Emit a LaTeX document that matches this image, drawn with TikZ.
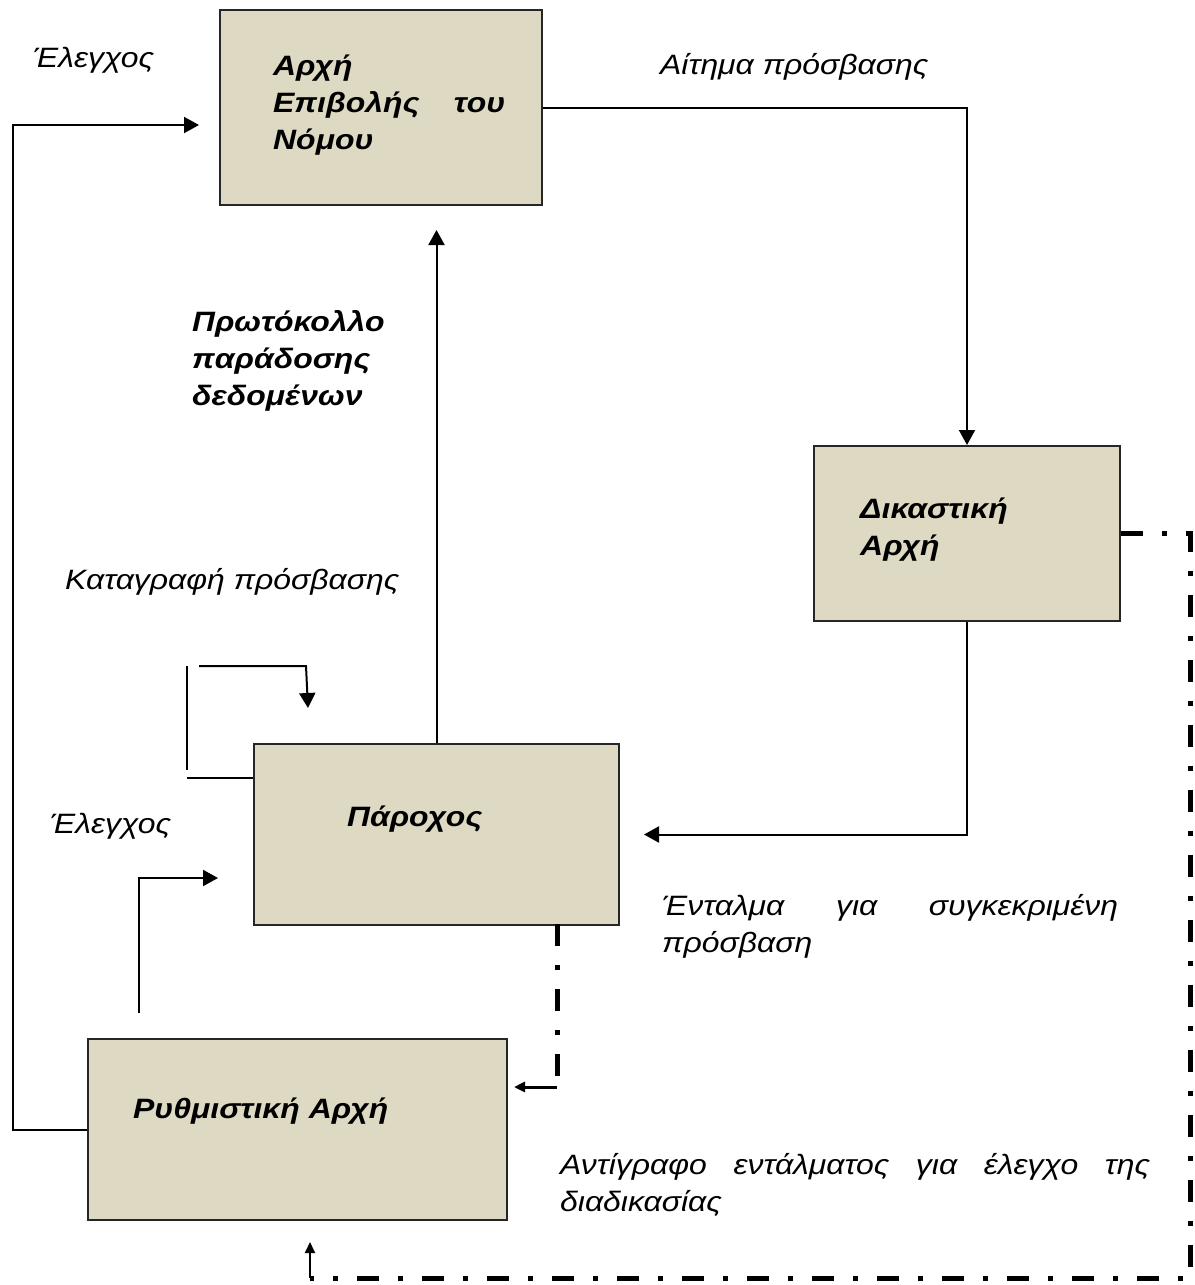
\documentclass[tikz,border=0pt]{standalone}
\usepackage{fontspec}
\setmainfont{Liberation Sans}[FakeStretch=1.14]
\usetikzlibrary{arrows.meta}
\definecolor{boxfill}{RGB}{221,217,195}

\begin{document}
\begin{tikzpicture}[x=1pt,y=-1pt,
  box/.style={draw=black!85, line width=2pt, fill=boxfill, inner sep=0pt, anchor=north west},
  lbl/.style={font=\fontsize{28}{37}\selectfont\itshape, inner sep=0pt, anchor=base west, align=left},
  boldlbl/.style={lbl, font=\fontsize{28}{37}\selectfont\bfseries\itshape},
  conn/.style={line width=2pt, draw=black},
  arr/.style={conn, -{Triangle[length=15pt,width=16pt]}},
  arrsmall/.style={conn, -{Triangle[length=11pt,width=10pt]}},
  dashdot/.style={line width=5pt, draw=black, dash pattern=on 22pt off 19pt on 5pt off 19pt},
]
\useasboundingbox (0,0) rectangle (1194,1285);
\fill[white] (0,0) rectangle (1194,1285);

% boxes
\node[box, minimum width=322pt, minimum height=195pt] (law) at (219,9) {};
\node[box, minimum width=306pt, minimum height=175pt] (court) at (813,445) {};
\node[box, minimum width=365pt, minimum height=181pt] (prov) at (253,743) {};
\node[box, minimum width=419pt, minimum height=181pt] (reg) at (87,1038) {};

% texts (multi-line nodes are placed by the baseline of their last line)
\node[lbl] (ctlTop) at (33,67) {Έλεγχος};
\node[lbl] (reqLbl) at (660,74) {Αίτημα πρόσβασης};
\node[boldlbl] (lawTxt) at (273,149) {Αρχή\\\hbox to 232pt{Επιβολής\hfil του}\\Νόμου};
\node[boldlbl] (protoTxt) at (192,405) {Πρωτόκολλο\\παράδοσης\\δεδομένων};
\node[lbl] (logLbl) at (65,589) {Καταγραφή πρόσβασης};
\node[lbl] (ctlMid) at (50,833) {Έλεγχος};
\node[boldlbl] (provTxt) at (347,826) {Πάροχος};
\node[boldlbl] (courtTxt) at (860,555) {Δικαστική\\Αρχή};
\node[lbl] (warrantLbl) at (662,952) {\hbox to 456pt{Ένταλμα\hfil για\hfil συγκεκριμένη}\\πρόσβαση};
\node[boldlbl] (regTxt) at (133,1118) {Ρυθμιστική Αρχή};
\node[lbl] (copyLbl) at (560,1211) {\hbox to 590pt{Αντίγραφο\hfil εντάλματος\hfil για\hfil έλεγχο\hfil της}\\διαδικασίας};

% request and warrant
\draw[arr] (law.east) -| (court.north);
\draw[arr, shorten >=24pt] (court.south) |- (prov.east);

% data handover protocol
\draw[arr, shorten >=24pt] (prov.north) -- (prov.north |- law.south);

% oversight of the law enforcement authority
\coordinate (leftTop) at (13,125);
\draw[arr, shorten >=20pt] (reg.west) -| (leftTop) -- (leftTop -| law.west);

% oversight of the provider
\coordinate (ctlFoot) at (139,1013);
\coordinate (ctlElbow) at (139,878);
\draw[arr, shorten >=35pt] (ctlFoot) -- (ctlElbow) -- (ctlElbow -| prov.west);

% access logging loop
\coordinate (loopA) at (187,770);
\coordinate (loopB) at (187,666);
\draw[conn] (loopA) -- (loopB);
\coordinate (loopC) at (187,778);
\draw[conn] (loopC) -- (loopC -| prov.west);
\coordinate (loopD) at (199,666);
\coordinate (loopE) at (306,666);
\coordinate (loopF) at (308,708);
\draw[arr] (loopD) -- (loopE) -- (loopF);

% provider to regulator
\coordinate (provFoot) at (557,924);
\coordinate (regKnee) at (557,1087);
\draw[dashdot] (provFoot) -- (regKnee);
\draw[arrsmall, line width=3pt, shorten >=6pt] (regKnee) -- (regKnee -| reg.east);

% copy of the warrant to the regulator
\coordinate (rightTop) at (1190,533);
\coordinate (rightBot) at (1190,1278);
\coordinate (bottomLeft) at (310,1278);
\draw[dashdot] (court.east) -- (court.east -| rightTop) -- (rightBot) -- (bottomLeft);
\draw[arrsmall, shorten >=21pt] (bottomLeft) -- (bottomLeft |- reg.south);
\end{tikzpicture}
\end{document}
